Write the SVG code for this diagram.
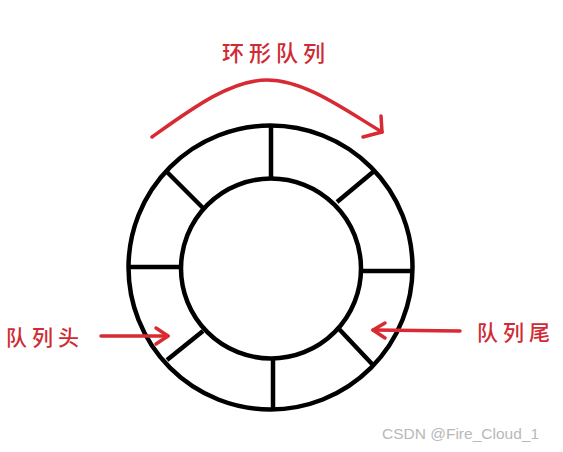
<svg xmlns="http://www.w3.org/2000/svg" width="563" height="452" viewBox="0 0 563 452">
<defs>
<style>
.ring{fill:none;stroke:#000;stroke-width:4.5}
.spoke{stroke:#000;stroke-width:4.5;stroke-linecap:butt}
.red{fill:none;stroke:#d82a32;stroke-width:3.5;stroke-linecap:round;stroke-linejoin:round}
.lbl{font-family:"Noto Sans CJK SC","Noto Sans",sans-serif;fill:#d02a34;font-size:21px;font-weight:500;letter-spacing:5px}
.wm{font-family:"Liberation Sans",Arial,sans-serif;fill:#b8b8b8;font-size:15.5px}
</style>
</defs>
<rect width="563" height="452" fill="#fff"/>
<g id="ring">
<circle class="ring" cx="270.5" cy="267.5" r="142"/>
<circle class="ring" cx="271" cy="268.5" r="90"/>
<line class="spoke" x1="271" y1="126" x2="271" y2="178"/>
<line class="spoke" x1="273" y1="359" x2="273" y2="410"/>
<line class="spoke" x1="129" y1="267" x2="181" y2="267"/>
<line class="spoke" x1="361" y1="271" x2="412" y2="271"/>
<line class="spoke" x1="167" y1="172" x2="203" y2="208"/>
<line class="spoke" x1="373" y1="172" x2="337" y2="202"/>
<line class="spoke" x1="203" y1="331" x2="167" y2="360"/>
<line class="spoke" x1="339" y1="329" x2="373" y2="365"/>
</g>
<g id="connectors">
<path class="red" d="M152,137 C190,110 230,80 267,80 C305,80 345,110 382,132"/>
<path class="red" d="M363,137 L382,132 L381,116"/>
<path class="red" d="M101,336 L168,336"/>
<path class="red" d="M156,328 L168,336 L156,344"/>
<path class="red" d="M460,331 L373,330"/>
<path class="red" d="M385,323 L373,330 L385,338"/>
</g>
<g id="title"><text class="lbl" x="222" y="61" style="font-size:22px;letter-spacing:5px">环形队列</text></g>
<g id="head"><text class="lbl" x="6" y="345">队列头</text></g>
<g id="tail"><text class="lbl" x="477" y="340">队列尾</text></g>
<text class="wm" x="382" y="439">CSDN @Fire_Cloud_1</text>
</svg>
